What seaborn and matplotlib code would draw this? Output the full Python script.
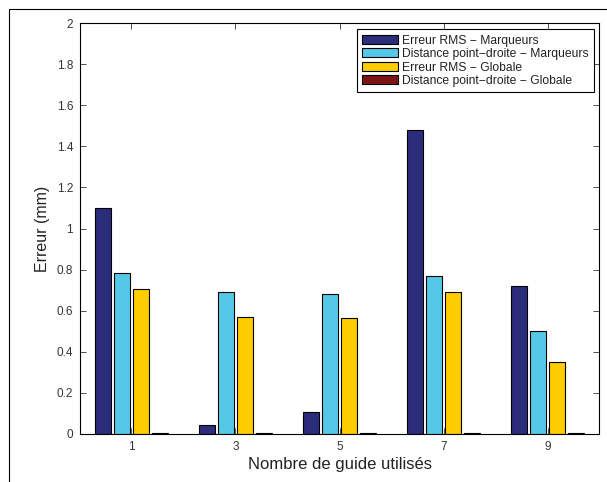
import matplotlib
matplotlib.use("Agg")
import matplotlib.pyplot as plt
from matplotlib.lines import Line2D
import seaborn as sns
import pandas as pd

guides = ["1", "3", "5", "7", "9"]
series = [
    "Erreur RMS − Marqueurs",
    "Distance point−droite − Marqueurs",
    "Erreur RMS − Globale",
    "Distance point−droite − Globale",
]
rms_marqueurs = [1.10, 0.045, 0.105, 1.48, 0.72]
dist_marqueurs = [0.785, 0.69, 0.68, 0.77, 0.50]
rms_globale = [0.705, 0.57, 0.565, 0.69, 0.35]
dist_globale = [0.003, 0.003, 0.003, 0.003, 0.003]
colors = ["#2B2C7C", "#55C8E8", "#FFCC00", "#7F1416"]

rows = []
for name, vals in zip(series, [rms_marqueurs, dist_marqueurs, rms_globale, dist_globale]):
    for g, v in zip(guides, vals):
        rows.append({"guide": g, "serie": name, "erreur": v})
df = pd.DataFrame(rows)

sns.set_style("white")
plt.rcParams["font.family"] = ["Liberation Sans", "DejaVu Sans"]

fig = plt.figure(figsize=(6.07, 4.82), dpi=100)
ax = fig.add_axes([80 / 607, 1 - 434 / 482, (599 - 80) / 607, (434 - 23) / 482])

sns.barplot(
    data=df, x="guide", y="erreur", hue="serie", order=guides, hue_order=series,
    palette=colors, width=0.73, gap=0.16, edgecolor="black", linewidth=0.8,
    saturation=1, ax=ax, errorbar=None,
)

ax.set_xlim(-0.49, 4.49)
ax.set_ylim(0, 2)
ax.set_yticks([0, 0.2, 0.4, 0.6, 0.8, 1, 1.2, 1.4, 1.6, 1.8, 2])
ax.set_yticklabels(["0", "0.2", "0.4", "0.6", "0.8", "1", "1.2", "1.4", "1.6", "1.8", "2"])
ax.set_xlabel("Nombre de guide utilisés", fontsize=12, color="#222222", labelpad=3)
ax.set_ylabel("Erreur (mm)", fontsize=11.5, color="#222222", labelpad=5)
ax.tick_params(direction="in", length=4, width=0.6, labelsize=8.5, colors="#333333",
               top=True, right=True, left=True, bottom=True, pad=5)
for s in ax.spines.values():
    s.set_visible(True)
    s.set_color("black")
    s.set_linewidth(0.8)

leg = ax.legend(loc="upper right", bbox_to_anchor=(0.990, 0.985), fontsize=8.7,
                frameon=True, fancybox=False, edgecolor="black", framealpha=1,
                handlelength=2.9, handleheight=0.76, handletextpad=0.35,
                labelspacing=0.12, borderpad=0.45, borderaxespad=0)
leg.get_frame().set_linewidth(0.8)
for t in leg.get_texts():
    t.set_color("#222222")

# partial figure border
fig.add_artist(Line2D([9 / 607, 9 / 607], [0, 1 - 9 / 482], color="black", lw=0.8,
                      transform=fig.transFigure))
fig.add_artist(Line2D([9 / 607, 1], [1 - 9 / 482, 1 - 9 / 482], color="black", lw=0.8,
                      transform=fig.transFigure))

fig.savefig("out.png", dpi=100)
